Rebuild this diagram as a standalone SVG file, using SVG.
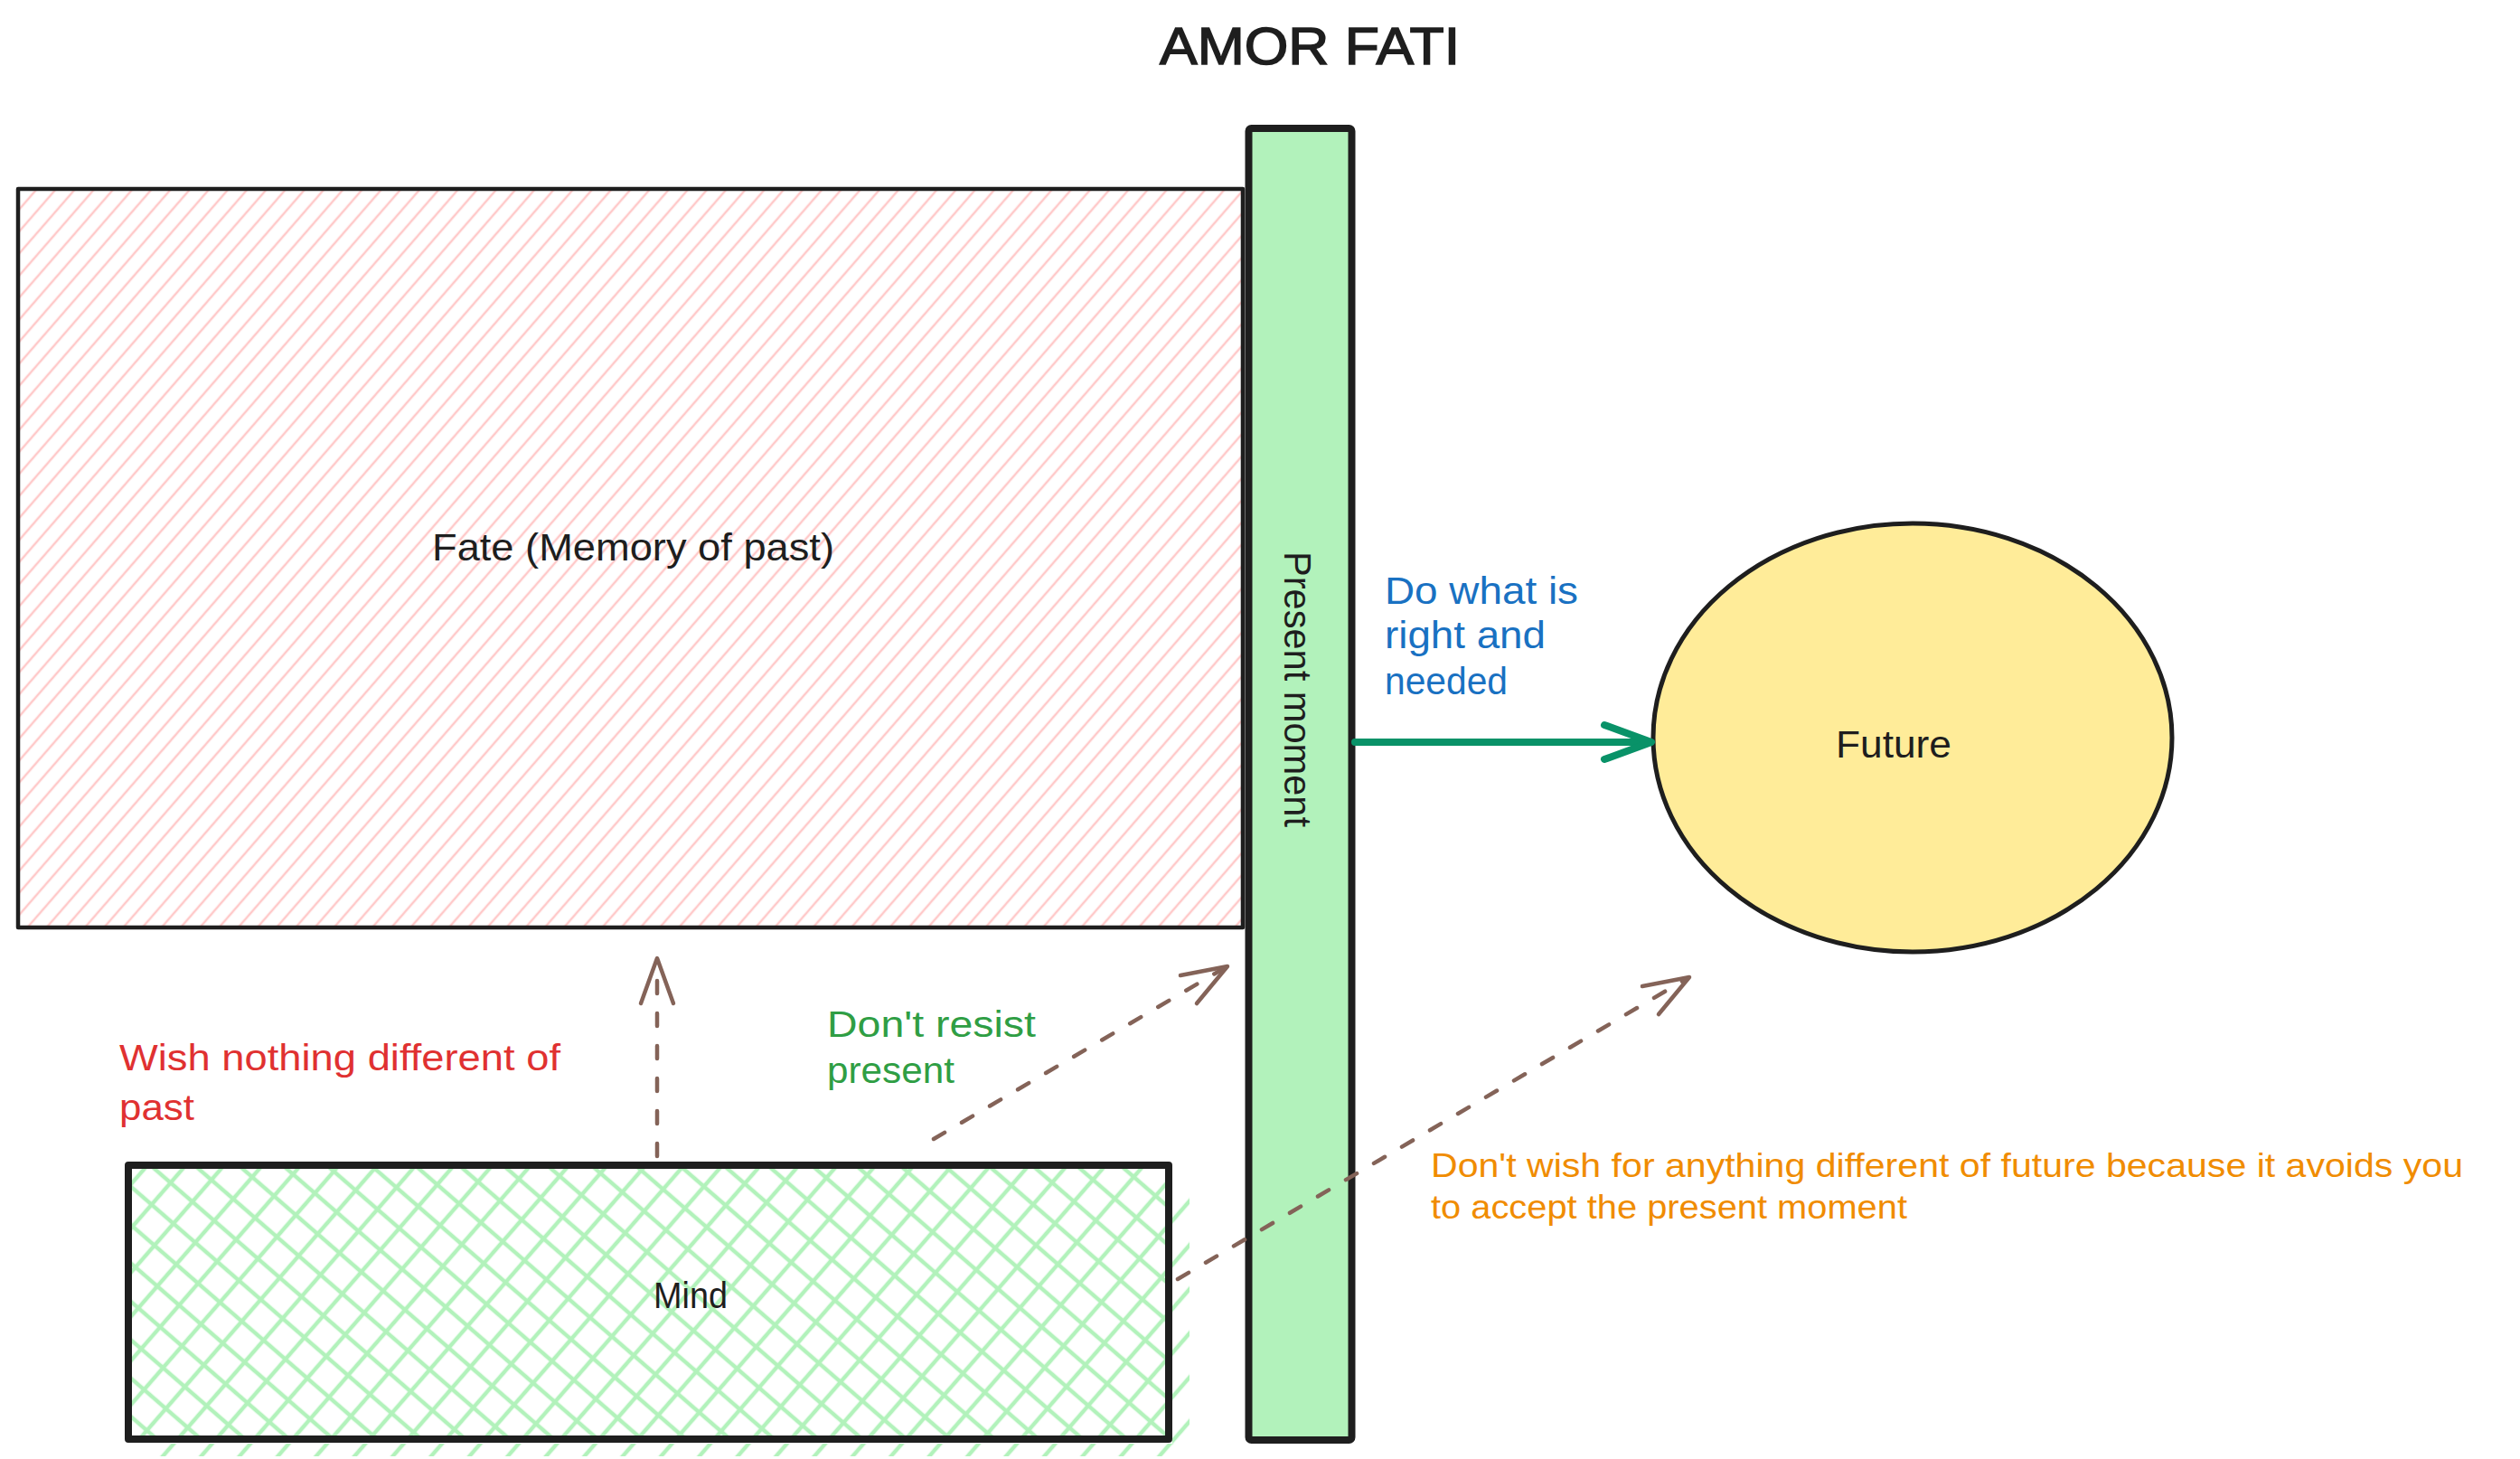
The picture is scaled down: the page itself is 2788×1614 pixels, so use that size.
<svg xmlns="http://www.w3.org/2000/svg" width="2788" height="1614" viewBox="0 0 2788 1614">
<style>
  text { font-family: "Liberation Sans", Arial, sans-serif; }
  .ink { fill: #1e1e1e; }
  .box { stroke: #1e1e1e; stroke-linejoin: round; stroke-linecap: round; }
  .dash { fill: none; stroke: #846358; stroke-width: 4.5; stroke-linecap: round; stroke-dasharray: 14 22; }
  .head { fill: none; stroke: #846358; stroke-width: 4.5; stroke-linecap: round; stroke-linejoin: round; }
  .green-arrow { fill: none; stroke: #099268; stroke-width: 8; stroke-linecap: round; stroke-linejoin: round; }
</style>
<defs>
  <pattern id="hatchPink" patternUnits="userSpaceOnUse" width="16" height="16" patternTransform="rotate(41)">
    <line x1="8" y1="-2" x2="8" y2="18" stroke="#ffc9c9" stroke-width="2.5"/>
  </pattern>
  <pattern id="crossGreen" patternUnits="userSpaceOnUse" width="32" height="32" patternTransform="translate(142 1289) rotate(41)">
    <line x1="16" y1="-2" x2="16" y2="34" stroke="#b2f2bb" stroke-width="4.5"/>
    <line x1="-2" y1="16" x2="34" y2="16" stroke="#b2f2bb" stroke-width="4.5"/>
  </pattern>
  <pattern id="singleGreen" patternUnits="userSpaceOnUse" width="32" height="32" patternTransform="translate(142 1289) rotate(41)">
    <line x1="16" y1="-2" x2="16" y2="34" stroke="#b2f2bb" stroke-width="4.5"/>
  </pattern>
</defs>
<rect width="2788" height="1614" fill="#ffffff"/>

<g id="title">
  <text x="1283" y="71" font-size="58" class="ink" stroke="#1e1e1e" stroke-width="1.5" textLength="332" lengthAdjust="spacingAndGlyphs">AMOR FATI</text>
</g>

<g id="fate">
  <rect x="20" y="209" width="1355" height="817" fill="url(#hatchPink)"/>
  <rect x="20" y="209" width="1355" height="817" fill="none" class="box" stroke-width="4.5"/>
  <text x="478" y="620" font-size="42" class="ink" textLength="445" lengthAdjust="spacingAndGlyphs">Fate (Memory of past)</text>
</g>

<g id="present-moment">
  <rect x="1381.5" y="142" width="114" height="1451" rx="3" fill="#b2f2bb" class="box" stroke-width="8"/>
  <text transform="translate(1421 762.5) rotate(90)" x="0" y="0" text-anchor="middle" font-size="42" class="ink" textLength="305" lengthAdjust="spacingAndGlyphs">Present moment</text>
</g>

<g id="future">
  <ellipse cx="2116" cy="816" rx="287" ry="237" fill="#ffec99" class="box" stroke-width="5"/>
  <text x="2031" y="838" font-size="42" class="ink" textLength="128" lengthAdjust="spacingAndGlyphs">Future</text>
</g>

<g id="mind">
  <rect x="142" y="1289" width="1151" height="303" fill="url(#crossGreen)"/>
  <rect x="1297" y="1307" width="19" height="304" fill="url(#singleGreen)"/>
  <rect x="160" y="1597" width="1156" height="14" fill="url(#singleGreen)"/>
  <rect x="142" y="1289" width="1151" height="303" fill="none" class="box" stroke-width="8"/>
  <text x="723" y="1447" font-size="40" class="ink" textLength="82" lengthAdjust="spacingAndGlyphs">Mind</text>
</g>

<g id="connectors">
  <g id="arrow-do-right">
    <line x1="1499" y1="821" x2="1825" y2="821" class="green-arrow"/>
    <polyline points="1775,802 1827,821 1775,840" class="green-arrow"/>
  </g>
  <g id="arrow-past">
    <line x1="727" y1="1279" x2="727" y2="1062" class="dash"/>
    <polyline points="709,1110 727,1060 745,1110" class="head"/>
  </g>
  <g id="arrow-present">
    <line x1="1033" y1="1260" x2="1356" y2="1070" class="dash"/>
    <polyline points="1306,1079 1358,1069 1324,1110" class="head"/>
  </g>
  <g id="arrow-future">
    <line x1="1303" y1="1415" x2="1867" y2="1082" class="dash"/>
    <polyline points="1817,1091 1869,1081 1835,1122" class="head"/>
  </g>
</g>

<g id="label-do-what" fill="#1971c2" font-size="42">
  <text x="1532" y="668" textLength="214" lengthAdjust="spacingAndGlyphs">Do what is</text>
  <text x="1532" y="717" textLength="178" lengthAdjust="spacingAndGlyphs">right and</text>
  <text x="1532" y="768" textLength="136" lengthAdjust="spacingAndGlyphs">needed</text>
</g>

<g id="label-wish-past" fill="#e03131" font-size="40">
  <text x="132" y="1184" textLength="488" lengthAdjust="spacingAndGlyphs">Wish nothing different of</text>
  <text x="132" y="1239" textLength="83" lengthAdjust="spacingAndGlyphs">past</text>
</g>

<g id="label-dont-resist" fill="#2f9e44" font-size="40">
  <text x="915" y="1147" textLength="231" lengthAdjust="spacingAndGlyphs">Don't resist</text>
  <text x="915" y="1198" textLength="141" lengthAdjust="spacingAndGlyphs">present</text>
</g>

<g id="label-future" fill="#f08c00" font-size="36">
  <text x="1583" y="1302" textLength="1142" lengthAdjust="spacingAndGlyphs">Don't wish for anything different of future because it avoids you</text>
  <text x="1583" y="1348" textLength="527" lengthAdjust="spacingAndGlyphs">to accept the present moment</text>
</g>
</svg>
